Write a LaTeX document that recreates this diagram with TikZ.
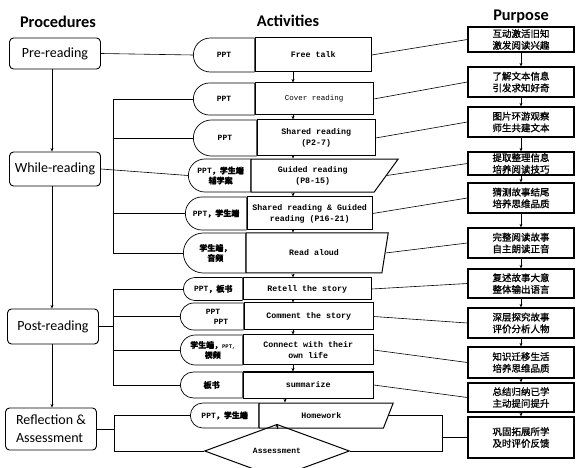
\documentclass[tikz,border=0pt]{standalone}
\usepackage{fontspec}
\setmainfont{Liberation Serif}
\newfontfamily\cjk{Noto Sans CJK SC}[FakeBold=1.2]
\newfontfamily\actfont{Liberation Mono}
\newfontfamily\procfont{Carlito}
\usetikzlibrary{positioning, arrows.meta, shapes.geometric, shapes.misc}

\begin{document}
\begin{tikzpicture}[
    x=1pt, y=-1pt,
    >={Stealth[length=3.5pt, width=3pt]},
    head/.style={font=\procfont\bfseries\fontsize{16.3}{18}\selectfont},
    proc/.style={draw, line width=0.9pt, rounded corners=4pt, minimum width=91pt,
      font=\procfont\fontsize{14}{18}\selectfont},
    disp/.style={draw, rounded rectangle, rounded rectangle right arc=none, anchor=west,
      line width=0.7pt, inner sep=0pt, align=center, font=\actfont\bfseries\fontsize{8}{10}\selectfont},
    actbox/.style={draw, line width=1pt, align=center, inner sep=0pt,
      font=\actfont\bfseries\fontsize{8.3}{11}\selectfont},
    slantbox/.style={actbox, trapezium, trapezium left angle=90, trapezium stretches body},
    goal/.style={draw, line width=1.3pt, minimum width=106pt, align=center, inner sep=0pt,
      font=\cjk\fontsize{9.5}{11.7}\selectfont},
    link/.style={line width=0.6pt},
  ]
  \useasboundingbox (0,0) rectangle (582,468);

  % column heads
  \node[head] (hproc) at (58,22) {Procedures};
  \node[head] (hact) at (288,21) {Activities};
  \node[head] (hpur) at (521,16) {Purpose};

  % procedures
  \node[proc, minimum height=31pt] (pre) at (55,53.5) {Pre-reading};
  \node[proc, minimum height=34pt] (while) at (55,169) {While-reading};
  \node[proc, minimum height=35pt] (post) at (53,326.5) {Post-reading};
  \node[proc, minimum height=42pt, align=left] (refl) at (51,429) {Reflection \&\\Assessment};

  % activities
  \node[disp, minimum width=61pt, minimum height=34pt] (d1) at (193,55) {PPT};
  \node[actbox, right=0pt of d1, minimum width=116pt, minimum height=34pt] (b1) {Free talk};
  \node[disp, minimum width=61pt, minimum height=32pt] (d2) at (193,99) {PPT};
  \node[actbox, right=0pt of d2, minimum width=118pt, minimum height=32pt,
    font=\actfont\fontsize{7.5}{11}\selectfont] (b2) {Cover reading};
  \node[disp, minimum width=63pt, minimum height=36pt] (d3) at (193,138) {PPT};
  \node[actbox, right=0pt of d3, minimum width=118pt, minimum height=36pt] (b3) {Shared reading\\(P2-7)};
  \node[disp, minimum width=62pt, minimum height=33pt] (d4) at (188,175.5) {PPT{\cjk ，学生端}\\{\cjk 辅学案}};
  \node[slantbox, trapezium right angle=142, right=0pt of d4, minimum width=147pt,
    minimum height=33pt] (b4) {Guided reading\\(P8-15)};
  \node[disp, minimum width=61pt, minimum height=33pt] (d5) at (185,213.5) {PPT{\cjk ，学生端}};
  \node[actbox, right=0pt of d5, minimum width=125pt, minimum height=33pt] (b5) {Shared reading \& Guided\\reading (P16-21)};
  \node[disp, minimum width=62pt, minimum height=40pt] (d6) at (183,253) {{\cjk 学生端，}\\{\cjk 音频}};
  \node[slantbox, trapezium right angle=136, right=0pt of d6, minimum width=142pt,
    minimum height=40pt] (b6) {Read aloud};
  \node[disp, minimum width=59pt, minimum height=23pt] (d7) at (183,289) {PPT{\cjk ，板书}};
  \node[actbox, right=0pt of d7, minimum width=128pt, minimum height=22pt] (b7) {Retell the story};
  \node[disp, minimum width=63pt, minimum height=27pt] (d8) at (180,316.5) {PPT\\\hspace*{16pt}PPT};
  \node[actbox, right=0pt of d8, minimum width=129pt, minimum height=27pt] (b8) {Comment the story};
  \node[disp, minimum width=62pt, minimum height=30pt] (d9) at (180,350)
    {{\cjk 学生端，}{\fontsize{5.5}{6}\selectfont PPT,}\\{\cjk 视频}};
  \node[actbox, right=0pt of d9, minimum width=130pt, minimum height=30pt] (b9) {Connect with their\\own life};
  \node[disp, minimum width=62pt, minimum height=26pt] (d10) at (180,385) {{\cjk 板书}};
  \node[actbox, right=0pt of d10, minimum width=130pt, minimum height=26pt] (b10) {summarize};
  \node[disp, minimum width=68pt, minimum height=25pt] (d11) at (190,415.5) {PPT{\cjk ，学生端}};
  \node[slantbox, trapezium right angle=148, right=0pt of d11, minimum width=134pt,
    minimum height=25pt] (b11) {Homework};
  \node[draw, diamond, line width=1pt, minimum width=145pt, minimum height=38pt, inner sep=0pt,
    font=\actfont\bfseries\fontsize{8}{10}\selectfont] (assess) at (277,451) {Assessment};

  % purposes
  \node[goal, minimum height=25pt] (p1) at (521,39.5) {互动激活旧知\\激发阅读兴趣};
  \node[goal, minimum height=30pt] (p2) at (521,82) {了解文本信息\\引发求知好奇};
  \node[goal, minimum height=30pt] (p3) at (521,122) {图片环游观察\\师生共建文本};
  \node[goal, minimum height=23pt] (p4) at (521,163.5) {提取整理信息\\培养阅读技巧};
  \node[goal, minimum height=30pt] (p5) at (521,198) {猜测故事结尾\\培养思维品质};
  \node[goal, minimum height=30pt] (p6) at (521,243) {完整阅读故事\\自主朗读正音};
  \node[goal, minimum height=29pt] (p7) at (521,283.5) {复述故事大意\\整体输出语言};
  \node[goal, minimum height=30pt] (p8) at (521,323) {深层探究故事\\评价分析人物};
  \node[goal, minimum height=31pt] (p9) at (521,362.5) {知识迁移生活\\培养思维品质};
  \node[goal, minimum height=29pt] (p10) at (521,397.5) {总结归纳已学\\主动提问提升};
  \node[goal, minimum height=41pt] (p11) at (521,437.5) {巩固拓展所学\\及时评价反馈};

  % guide lines
  \coordinate (px) at (52,0);
  \coordinate (wbr) at (113,0);
  \coordinate (pbr) at (113,0);
  \coordinate (rbr) at (114,0);
  \coordinate (ax) at (293,0);
  \coordinate (ax2) at (285,0);
  \coordinate (hbr) at (442,0);

  % procedure flow
  \draw[->, line width=0.7pt] (pre.south -| px) -- (while.north -| px);
  \draw[->, line width=0.7pt] (while.south -| px) -- (post.north -| px);
  \draw[->, line width=0.7pt] (post.south -| px) -- (refl.north -| px);

  % activity flow
  \foreach \i/\j in {1/2, 2/3, 3/4, 4/5, 5/6, 6/7, 7/8, 8/9, 9/10}
    \draw[->, link] (b\i.south -| ax) -- (b\j.north -| ax);
  \draw[->, link] (b10.south -| ax2) -- (b11.north -| ax2);
  \draw[->, link] (b11.south -| assess.north) -- (assess.north);

  % purpose flow
  \foreach \i/\j in {1/2, 2/3, 3/4, 4/5, 5/6, 6/7, 7/8, 8/9, 9/10, 10/11}
    \draw[->, link] (p\i.south) -- (p\j.north);

  % procedures to activities
  \draw[link] (pre.east) -- (d1.west);
  \draw[link] (while.east) -- (d4.west);
  \draw[link] (d2.west) -- (d2.west -| wbr) -- (d6.west -| wbr) -- (d6.west);
  \foreach \i in {3, 5}
    \draw[link] (d\i.west -| wbr) -- (d\i.west);
  \draw[link] (post.east) -- (post.east -| pbr);
  \draw[link] (d7.west) -- (d7.west -| pbr) -- (d10.west -| pbr) -- (d10.west);
  \foreach \i in {8, 9}
    \draw[link] (d\i.west -| pbr) -- (d\i.west);
  \draw[link] (refl.east) -- (refl.east -| rbr);
  \draw[link] (d11.west) -- (d11.west -| rbr) -- (assess.west -| rbr) -- (assess.west);

  % activities to purposes
  \foreach \i in {1,...,10}
    \draw[link] (b\i.east) -- (p\i.west);
  \draw[link] (b11.east) -- (b11.east -| hbr) -- (assess.east -| hbr) -- (assess.east);
  \draw[link] (p11.west -| hbr) -- (p11.west);
\end{tikzpicture}
\end{document}
